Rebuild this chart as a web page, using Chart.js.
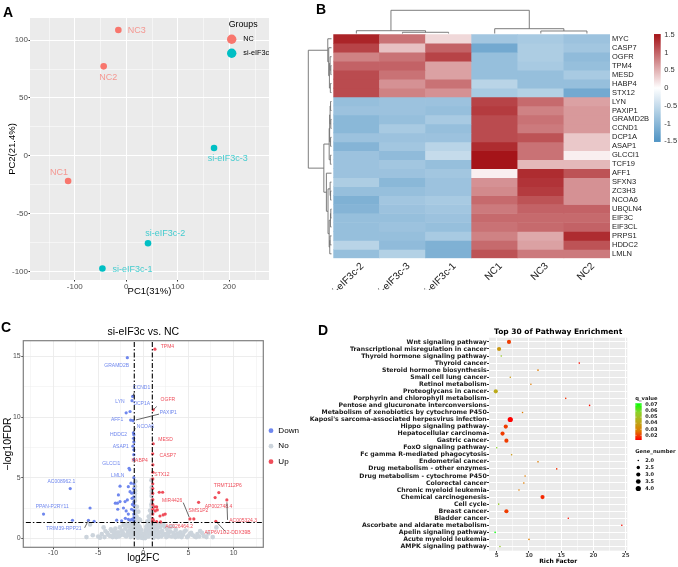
<!DOCTYPE html>
<html>
<head>
<meta charset="utf-8">
<script src="https://cdn.jsdelivr.net/npm/chart.js@4.4.1/dist/chart.umd.min.js"></script>
<style>
html,body{margin:0;padding:0;background:#fff;}
body{width:678px;height:567px;position:relative;overflow:hidden;}
canvas{position:absolute;}
.tag{position:absolute;font:bold 14px "Liberation Sans",Arial,sans-serif;line-height:14px;color:#000;}
</style>
</head>
<body>
<canvas id="cA" width="290" height="300" style="left:0;top:0;width:290px;height:300px"></canvas>
<canvas id="cB" width="388" height="290" style="left:290px;top:0;width:388px;height:290px"></canvas>
<canvas id="cC" width="340" height="267" style="left:0;top:300px;width:340px;height:267px"></canvas>
<canvas id="cD" width="378" height="267" style="left:300px;top:300px;width:378px;height:267px"></canvas>
<div class="tag" style="left:3px;top:5px">A</div>
<div class="tag" style="left:316px;top:2px">B</div>
<div class="tag" style="left:1px;top:320px">C</div>
<div class="tag" style="left:318px;top:323px">D</div>
<script>
// ---------------- DATA ----------------
// Panel A: PCA
const pcaSamples = ['NC1','NC2','NC3','si-eIF3c-1','si-eIF3c-2','si-eIF3c-3'];
const pcaGroupOf = ['NC','NC','NC','si-eIF3c','si-eIF3c','si-eIF3c'];
const pcaGroups = ['NC','si-eIF3c'];
const pc1 = [-113, -44, -15.5, -46.4, 42.1, 170.3];
const pc2 = [-21.6, 77.3, 108.7, -97.1, -75.3, 6.9];

// Panel B: heatmap (z-scores)
const hmSamples = ['si-eIF3c-2','si-eIF3c-3','si-eIF3c-1','NC1','NC3','NC2'];
const hmGenes = ['MYC','CASP7','OGFR','TPM4','MESD','HABP4','STX12','LYN','PAXIP1','GRAMD2B','CCND1','DCP1A','ASAP1','GLCCI1','TCF19','AFF1','SFXN3','ZC3H3','NCOA6','UBQLN4','EIF3C','EIF3CL','PRPS1','HDDC2','LMLN'];
const hmValues = [
  [1.40, 0.90, 0.25, -0.80, -0.75, -0.85],
  [1.20, 0.40, 1.00, -1.20, -0.70, -0.80],
  [0.80, 0.90, 1.20, -0.90, -0.70, -0.95],
  [1.00, 1.00, 0.60, -0.90, -0.75, -0.90],
  [1.15, 0.90, 0.60, -0.90, -0.90, -0.75],
  [1.15, 0.70, 0.90, -0.60, -0.90, -0.90],
  [1.15, 0.80, 0.70, -0.75, -0.65, -1.20],
  [-0.90, -0.85, -0.85, 1.20, 0.95, 0.60],
  [-0.85, -0.85, -0.90, 1.25, 0.80, 0.65],
  [-1.00, -0.90, -0.75, 1.15, 0.90, 0.65],
  [-1.00, -0.75, -0.90, 1.15, 0.85, 0.65],
  [-0.85, -0.85, -0.85, 1.15, 1.10, 0.35],
  [-1.05, -0.80, -0.60, 1.35, 0.90, 0.35],
  [-0.85, -0.95, -0.50, 1.55, 0.90, 0.10],
  [-0.85, -0.80, -0.90, 1.55, 0.45, 0.45],
  [-0.85, -0.85, -0.80, 0.10, 1.35, 1.10],
  [-0.70, -1.00, -0.85, 0.70, 1.30, 0.70],
  [-0.90, -0.90, -0.85, 0.75, 1.25, 0.70],
  [-1.10, -0.80, -0.75, 0.95, 1.10, 0.70],
  [-1.05, -0.85, -0.80, 0.85, 1.00, 1.00],
  [-0.90, -0.90, -0.85, 0.95, 0.95, 0.95],
  [-0.90, -0.85, -0.90, 0.90, 0.95, 1.00],
  [-0.90, -0.90, -0.75, 0.80, 0.55, 1.35],
  [-0.60, -0.95, -1.10, 0.95, 0.60, 1.10],
  [-0.90, -0.65, -1.10, 1.10, 0.85, 0.85]
];
// dendrogram merges (hclust style: negative = leaf index, positive = earlier merge)
const colMerge = [[-2,-3,0.52],[-1,1,1.2],[-5,-6,1.08],[-4,3,2.07],[2,4,10]];
const rowMerge = [[-4,-5,0.3],[-3,1,0.6],[-6,-7,0.5],[2,3,0.9],[-2,4,1.2],[-1,5,1.6],
  [-8,-9,0.4],[-10,-11,0.3],[7,8,0.6],[-12,-13,0.4],[9,10,0.8],[-14,-15,0.5],[11,12,1.0],
  [-18,-19,0.4],[-17,14,0.6],[-20,-21,0.3],[16,-22,0.45],[-23,-24,0.6],[18,-25,0.75],
  [17,19,1.0],[15,20,1.5],[-16,21,2.2],[13,22,3.3],[6,23,10]];
const hmLegendTicks = [1.5, 1, 0.5, 0, -0.5, -1, -1.5];

// Panel C: volcano
const fcCut = 1, fdrCut = 1.3;
const downX = [-1.77,-1.18,-1.25,-1.47,-1.9,-1.4,-1.15,-1.1,-1.05,-1.08,-1.05,-1.15,-1.05,-1.05,-1.05,-1.58,-1.5,-1.05,-1.05,-1.05,-1.05,-1.05,-1.05,-1.05,-1.05,-1.05,-1.05,-1.05,-8.1,-11.06,-5.9,-7.85,-6.08,-5.45,-2.95,-1.66,-2.58,-2.76,-3.1,-2.87,-2.58,-2.02,-1.77,-2.83,-2.2,-1.9,-1.66,-1.99,-1.66,-1.47,-1.28,-1.47,-1.28,-1.36,-2.4,-1.2,-1.3,-1.25];
const downY = [14.9,11.7,11.35,10.46,10.35,9.75,9.7,8.7,8.55,8.25,7.95,7.6,7.3,6.9,6.5,5.78,5.65,5.0,4.5,4.1,3.8,3.4,3.0,2.7,2.3,2.0,1.7,1.45,4.1,2.0,2.5,1.49,1.49,1.4,1.5,4.26,4.3,3.58,2.9,2.9,3.03,3.03,3.17,2.4,2.5,2.26,2.0,1.65,1.57,1.51,1.57,3.85,3.72,4.55,1.45,2.8,2.4,3.3];
const downGene = ['GRAMD2B','CCND1','LYN','DCP1A','','AFF1','PAXIP1','NCOA6','HDDC2','','','ASAP1','','','','GLCCI1','LMLN','','','','','','','','','','','','AC008962.1','PPAN-P2RY11','','','TRIM39-RPP21','','','','','','','','','','','','','','','','','','','','','','','','',''];
const upX = [1.29,1.1,1.1,1.04,1.06,1.06,1.05,1.05,1.05,1.05,1.05,1.05,1.05,1.05,1.05,1.05,1.77,2.14,5.17,5.6,6.13,7.96,8.37,9.26,8.04,1.26,1.48,1.55,1.33,1.1,1.48,1.85,2.2,2.43,1.92];
const upY = [15.6,10.6,7.8,6.97,6.06,5.45,4.9,4.5,4.1,3.7,3.2,2.8,2.4,2.0,1.6,1.4,3.8,3.8,1.6,1.6,2.97,3.36,3.77,3.17,1.4,2.6,2.6,2.34,2.26,1.5,1.37,1.84,1.93,2.0,1.35];
const upGene = ['TPM4','OGFR','MESD','CASP7','HABP4','STX12','','','','','','','','','','','','','MIR4426','SMS1P2','','AP002748.4','TRMT112P6','AC005324.3','ATP6V1G2-DDX39B','','','','','','','','','','AC026464.2'];
const noX = [-5.6,-5.0,-4.6,-4.3,-4.0,-3.7,-3.5,-3.3,-3.1,-3.0,-2.8,-2.6,-2.5,-2.4,-2.2,-2.2,-2.0,-1.9,-1.8,-1.7,-1.6,-1.5,-1.45,-1.35,-1.3,-1.2,-1.15,-1.1,-1.05,
 -0.97,-0.95,-0.93,-0.96,-0.92,-0.95,-0.9,-0.93,-0.88,-0.9,-0.85,-0.87,-0.9,-0.95,-0.9,
 -0.8,-0.75,-0.7,-0.65,-0.6,-0.55,-0.5,-0.45,-0.4,-0.35,-0.3,-0.25,-0.2,-0.15,-0.1,-0.05,
 0.0,0.05,0.1,0.15,0.2,0.25,0.3,0.35,0.4,0.45,0.5,0.55,0.6,0.65,0.7,0.75,0.8,0.82,
 0.86,0.88,0.9,0.92,0.93,0.9,0.95,0.96,0.97,0.94,0.97,
 1.05,1.1,1.15,1.25,1.3,1.4,1.5,1.6,1.7,1.85,2.0,2.1,2.25,2.4,2.6,2.8,3.0,3.2,3.4,3.6,3.9,4.1,4.4,4.7,5.0,5.3,5.7,6.0,6.3,6.7,7.2,8.1,7.7,
 -6.3,-4.4,-5.9,
 -4.8,-4.2,-3.9,-3.6,-3.4,-3.2,-2.9,-2.7,-2.3,-2.1,-1.95,-1.75,-1.55,-1.4,-1.25,-1.1,-0.98,-0.85,-0.7,-0.6,
 -0.45,-0.35,-0.2,-0.1,0.0,0.1,0.2,0.3,0.45,0.6,0.72,0.85,0.98,1.12,1.3,1.45,1.65,1.8,1.95,2.15,
 2.35,2.55,2.75,2.95,3.15,3.35,3.55,3.8,4.0,4.25,4.55,4.85,5.15,5.5,5.85,6.2,6.5,7.0,
 -0.98,-0.92,-0.96,-0.9,-0.94,0.92,0.98,0.9,0.95,0.93,
 -0.6,-0.5,-0.4,-0.3,0.3,0.4,0.5,0.6,-0.7,0.7];
const noY = [0.25,0.15,0.35,0.1,0.45,0.2,0.6,0.3,0.8,0.1,0.5,0.9,0.25,0.65,1.1,0.4,0.8,0.15,1.2,0.55,0.95,0.3,1.25,0.7,1.05,0.45,0.9,1.2,0.2,
 1.5,1.9,2.3,2.7,3.1,3.5,3.9,4.3,4.7,2.0,1.6,2.6,1.2,0.8,0.4,
 1.1,1.8,0.6,1.4,0.9,2.2,0.35,1.0,0.6,1.5,0.25,0.7,0.4,0.15,0.35,0.05,
 0.1,0.2,0.05,0.35,0.15,0.6,0.3,1.0,0.5,1.4,0.8,0.3,1.8,1.1,0.5,2.3,1.4,0.7,
 1.2,2.0,2.8,3.5,4.2,4.8,1.6,2.4,3.1,0.4,0.9,
 0.3,0.8,1.15,0.5,1.0,0.2,0.7,1.2,0.4,0.9,0.15,0.6,1.1,0.35,0.8,0.2,0.55,1.0,0.3,0.7,0.15,0.5,0.3,0.65,0.2,0.45,0.15,0.35,0.6,0.2,0.4,0.9,0.1,
 0.1,0.9,1.15,
 0.05,0.6,0.3,0.75,0.1,0.55,0.35,0.15,0.5,0.25,1.0,0.3,0.6,0.1,0.35,0.6,1.0,0.25,0.3,0.05,
 0.2,0.1,0.05,0.15,0.02,0.08,0.02,0.12,0.3,0.15,0.9,0.4,1.3,0.05,0.3,1.0,0.1,0.5,1.15,0.3,
 0.95,0.1,0.5,0.9,0.15,0.45,0.1,0.4,0.3,0.1,0.55,0.1,0.35,0.25,0.1,0.15,0.45,0.1,
 3.3,3.7,4.0,2.2,1.1,3.9,2.1,1.4,3.7,2.6,
 1.3,1.6,0.9,0.5,0.7,0.9,1.3,1.2,2.6,1.6];

// Panel D: KEGG enrichment
const pathways = ['Wnt signaling pathway','Transcriptional misregulation in cancer','Thyroid hormone signaling pathway','Thyroid cancer','Steroid hormone biosynthesis','Small cell lung cancer','Retinol metabolism','Proteoglycans in cancer','Porphyrin and chlorophyll metabolism','Pentose and glucuronate interconversions','Metabolism of xenobiotics by cytochrome P450',"Kaposi's sarcoma-associated herpesvirus infection",'Hippo signaling pathway','Hepatocellular carcinoma','Gastric cancer','FoxO signaling pathway','Fc gamma R-mediated phagocytosis','Endometrial cancer','Drug metabolism - other enzymes','Drug metabolism - cytochrome P450','Colorectal cancer','Chronic myeloid leukemia','Chemical carcinogenesis','Cell cycle','Breast cancer','Bladder cancer','Ascorbate and aldarate metabolism','Apelin signaling pathway','Acute myeloid leukemia','AMPK signaling pathway'];
const richFactor = [6.9,5.36,5.7,17.8,11.4,7.1,10.3,4.85,15.7,19.4,9.0,7.1,6.4,5.9,6.5,5.0,7.3,11.4,14.3,9.4,9.2,8.45,12.1,5.3,6.5,16.1,24.4,4.75,10.0,5.5];
const qValue = [0.0196,0.0365,0.0547,0.014,0.0274,0.0365,0.0274,0.0426,0.018,0.014,0.0274,0.0123,0.0196,0.0196,0.0196,0.058,0.0365,0.0274,0.018,0.0274,0.0274,0.0274,0.017,0.0547,0.0196,0.014,0.014,0.0728,0.0274,0.0547];
const geneNumber = [3,3,2,2,2,2,2,3,2,2,2,4,3,3,3,2,2,2,2,2,2,2,3,2,3,2,2,2,2,2];
const qLegendTicks = [0.07,0.06,0.05,0.04,0.03,0.02];
const geneLegendTicks = [2.0,2.5,3.0,3.5,4.0];

// ---------------- STYLE ----------------
const LS = '"Liberation Sans", Arial, sans-serif';
const DV = '"DejaVu Sans", sans-serif';
Chart.defaults.font.family = LS;
Chart.defaults.plugins.legend.display = false;
Chart.defaults.plugins.tooltip.enabled = false;
const groupColors = {'NC':'#F8766D','si-eIF3c':'#00BFC4'};
const downColor = '#6F87EE', upColor = '#EF4D5A', noColor = '#CCD4DC';
const pcaLabelOffset = {'NC1':[-9,-8],'NC2':[4.6,11],'NC3':[18.4,0.7],'si-eIF3c-1':[30,0.7],'si-eIF3c-2':[17.3,-10],'si-eIF3c-3':[13.7,10.6]};
const volcanoLabelOffset = {
  'GRAMD2B':[-10.6,8],'CCND1':[9,-9],'LYN':[-12,0.7],'DCP1A':[11.7,-7.4],'AFF1':[-13.6,-0.3],'PAXIP1':[35.4,-7.6],
  'NCOA6':[12.1,-6.3],'HDDC2':[-15.3,0],'ASAP1':[-12.1,0.7],'GLCCI1':[-17.7,-5.1],'LMLN':[-12,5.8],
  'AC008962.1':[-8.8,-7],'PPAN-P2RY11':[8.7,-7.1],'TRIM39-RPP21':[-24.5,8.7],
  'TPM4':[12.5,-2.8],'OGFR':[14.6,-9.7],'MESD':[12.3,-4.6],'CASP7':[15.1,2],'HABP4':[-13.2,-4.7],'STX12':[9.1,1.9],
  'TRMT112P6':[9,-7],'MIR4426':[-17.8,-18.7],'AP002748.4':[3.4,9.4],'SMS1P2':[4.6,-8],'AC005324.3':[16.3,20.3],
  'AC026464.2':[18.5,5],'ATP6V1G2-DDX39B':[11.8,11.3]};
const volcanoSegment = {'CCND1':[1.7,-4],'PAXIP1':[26.1,-6.6],'NCOA6':[1.9,-4.7],'TRIM39-RPP21':[-3.8,7.5],
  'OGFR':[3.5,-3.3],'MIR4426':[-6.7,-16.3],'AC005324.3':[0.7,20],'ATP6V1G2-DDX39B':[9.7,10.3]};

function zColor(v){
  const lo=[80,148,196], hi=[165,20,25];
  const t=Math.max(-1,Math.min(1,v/1.5)); const c=t<0?lo:hi; const a=Math.abs(t);
  return `rgb(${Math.round(255+(c[0]-255)*a)},${Math.round(255+(c[1]-255)*a)},${Math.round(255+(c[2]-255)*a)})`;
}
const qMin = Math.min(...qValue), qMax = Math.max(...qValue);
const qStops = [[0,[255,0,0]],[0.25,[222,124,0]],[0.5,[187,170,26]],[0.75,[140,210,42]],[1,[0,255,0]]];
function tColor(t){
  t=Math.max(0,Math.min(1,t));
  for(let i=1;i<qStops.length;i++){ if(t<=qStops[i][0]){ const [t0,c0]=qStops[i-1],[t1,c1]=qStops[i]; const f=(t-t0)/(t1-t0);
    return `rgb(${Math.round(c0[0]+(c1[0]-c0[0])*f)},${Math.round(c0[1]+(c1[1]-c0[1])*f)},${Math.round(c0[2]+(c1[2]-c0[2])*f)})`; } }
  return 'rgb(0,255,0)';
}
const qColor = q => tColor((q-qMin)/(qMax-qMin));
const geneRadius = g => 0.8 + 1.8*Math.sqrt(Math.max(0,(g-2)/2));

const isMajor = (v,m) => Math.abs(v % m) < 1e-9;
const majorOnly = m => v => isMajor(v,m) ? v : '';
const gridW = (m,a,b) => c => (c.tick && isMajor(c.tick.value,m)) ? a : b;
const tickC = (m,col) => c => (c.tick && isMajor(c.tick.value,m)) ? col : 'rgba(0,0,0,0)';

const panelBg = {
  id:'panelBg',
  beforeDraw(chart, args, opts){
    if(!opts || !opts.color) return;
    const {ctx, chartArea:a} = chart;
    ctx.save(); ctx.fillStyle = opts.color; ctx.fillRect(a.left, a.top, a.right-a.left, a.bottom-a.top); ctx.restore();
  }
};

// ---------------- PANEL A ----------------
const pcaDeco = {
  id:'pcaDeco',
  afterDatasetsDraw(chart){
    const {ctx, chartArea:a} = chart;
    ctx.save();
    ctx.font = `9px ${LS}`; ctx.textAlign='center'; ctx.textBaseline='middle';
    chart.data.datasets.forEach((ds,di)=>{
      const meta = chart.getDatasetMeta(di);
      meta.data.forEach((el,j)=>{
        const name = ds.data[j].name; const off = pcaLabelOffset[name];
        ctx.globalAlpha = 0.72; ctx.fillStyle = ds.backgroundColor;
        ctx.fillText(name, el.x+off[0], el.y+off[1]);
      });
    });
    ctx.globalAlpha = 1;
    ctx.textAlign='left'; ctx.fillStyle='#000';
    ctx.font = `8.8px ${LS}`; ctx.fillText('Groups', a.right-40.3, a.top+7);
    ctx.font = `7.3px ${LS}`;
    chart.data.datasets.forEach((ds,di)=>{
      const y = a.top + 21.3 + di*14;
      ctx.fillStyle = ds.backgroundColor; ctx.beginPath(); ctx.arc(a.right-37.3, y, 4.7, 0, Math.PI*2); ctx.fill();
      ctx.fillStyle = '#000'; ctx.fillText(ds.label, a.right-25.7, y);
    });
    ctx.restore();
  }
};
new Chart(document.getElementById('cA'), {
  type:'scatter',
  data:{datasets: pcaGroups.map(g => ({
    label:g,
    data: pcaSamples.map((s,i)=>({x:pc1[i], y:pc2[i], name:s})).filter((p,i)=>pcaGroupOf[i]===g),
    backgroundColor: groupColors[g], pointRadius:3.3, borderWidth:0
  }))},
  options:{
    responsive:false, animation:false, devicePixelRatio:1,
    layout:{padding:{top:18,right:21,left:0,bottom:0}},
    scales:{
      x:{type:'linear', min:-187, max:277,
        ticks:{stepSize:50, includeBounds:false, callback:majorOnly(100), font:{size:8}, color:'#4D4D4D', padding:0, maxRotation:0},
        grid:{color:'#FFFFFF', lineWidth:gridW(100,1,0.5), tickLength:1.5, tickColor:tickC(100,'#333')},
        border:{display:false},
        title:{display:true, text:'PC1(31%)', font:{size:9.5}, color:'#000', padding:{top:0,bottom:2.5}},
        afterFit:s=>{s.height=20;}},
      y:{type:'linear', min:-107, max:119,
        ticks:{stepSize:25, includeBounds:false, callback:majorOnly(50), font:{size:8}, color:'#4D4D4D', padding:0.5},
        grid:{color:'#FFFFFF', lineWidth:gridW(50,1,0.5), tickLength:1.5, tickColor:tickC(50,'#333')},
        border:{display:false},
        title:{display:true, text:'PC2(21.4%)', font:{size:9.5}, color:'#000', padding:{top:7,bottom:0}},
        afterFit:s=>{s.width=30;}}
    },
    plugins:{panelBg:{color:'#EBEBEB'}}
  },
  plugins:[panelBg, pcaDeco]
});

// ---------------- PANEL B ----------------
function drawDendro(ctx, merges, leafPos, base, scale, isColumn){
  const pos=[], hts=[];
  const get = id => id<0 ? {p:leafPos[-id-1], h:0} : {p:pos[id-1], h:hts[id-1]};
  ctx.beginPath();
  merges.forEach(([a,b,h])=>{
    const A=get(a), B=get(b); const H = base - h*scale;
    const ea = base - A.h*scale, eb = base - B.h*scale;
    if(isColumn){ ctx.moveTo(A.p,ea); ctx.lineTo(A.p,H); ctx.lineTo(B.p,H); ctx.lineTo(B.p,eb); }
    else { ctx.moveTo(ea,A.p); ctx.lineTo(H,A.p); ctx.lineTo(H,B.p); ctx.lineTo(eb,B.p); }
    pos.push((A.p+B.p)/2); hts.push(h);
  });
  ctx.stroke();
}
const heatDeco = {
  id:'heatDeco',
  afterDraw(chart){
    const {ctx, chartArea:a, scales} = chart;
    ctx.save();
    ctx.strokeStyle='#6E6E6E'; ctx.lineWidth=0.9;
    drawDendro(ctx, colMerge, hmSamples.map((s,i)=>scales.x.getPixelForValue(i)), a.top-0.8, 2.32, true);
    drawDendro(ctx, rowMerge, hmGenes.map((g,i)=>scales.genes.getPixelForValue(i)), a.left-1.8, 2.32, false);
    // colour key
    const bx = a.right+44, bw = 6.7, y0 = 88, k = 35.5;
    const top = y0-1.52*k, bot = y0+1.52*k;
    const grad = ctx.createLinearGradient(0, top, 0, bot);
    for(let i=0;i<=20;i++){ const v = 1.52 - 3.04*i/20; grad.addColorStop(i/20, zColor(v)); }
    ctx.fillStyle = grad; ctx.fillRect(bx, top, bw, bot-top);
    ctx.fillStyle='#333'; ctx.font=`7.5px ${LS}`; ctx.textAlign='left'; ctx.textBaseline='middle';
    hmLegendTicks.forEach(v=>{ ctx.fillText(String(v), bx+bw+3.5, y0 - v*k); });
    ctx.restore();
  }
};
new Chart(document.getElementById('cB'), {
  type:'bar',
  data:{labels: hmSamples, datasets: hmGenes.map((g,i)=>({
    label:g, data: hmSamples.map(()=>1), backgroundColor: hmValues[i].map(zColor),
    borderWidth:0, barPercentage:1, categoryPercentage:1, stack:'hm'
  }))},
  options:{
    responsive:false, animation:false, devicePixelRatio:1,
    layout:{padding:{left:43.3, top:34.3, right:0, bottom:0}},
    scales:{
      x:{stacked:true, grid:{display:false, drawTicks:false}, border:{display:false},
        ticks:{minRotation:45, maxRotation:45, autoSkip:false, font:{size:10}, color:'#222', padding:2, labelOffset:6},
        afterFit:s=>{s.height=31.7;}},
      y:{stacked:true, min:0, max:25, reverse:true, display:false},
      genes:{type:'category', labels:hmGenes, position:'right', offset:true,
        grid:{display:false, drawTicks:false}, border:{display:false},
        ticks:{autoSkip:false, font:{size:7.5}, color:'#222', padding:2},
        afterFit:s=>{s.width=68;}}
    }
  },
  plugins:[heatDeco]
});

// ---------------- PANEL C ----------------
const volcanoDeco = {
  id:'volcanoDeco',
  afterDatasetsDraw(chart){
    const {ctx, chartArea:a} = chart;
    ctx.save();
    ctx.font = `5px ${LS}`; ctx.textAlign='center'; ctx.textBaseline='middle';
    chart.data.datasets.forEach((ds,di)=>{
      if(!ds.genes) return;
      const meta = chart.getDatasetMeta(di);
      ds.genes.forEach((g,j)=>{
        if(!g) return;
        const el = meta.data[j]; const off = volcanoLabelOffset[g]; if(!off) return;
        const seg = volcanoSegment[g];
        if(seg){ ctx.strokeStyle='#000'; ctx.lineWidth=0.6; ctx.beginPath();
          ctx.moveTo(el.x+seg[0]*0.12, el.y+seg[1]*0.12); ctx.lineTo(el.x+seg[0], el.y+seg[1]); ctx.stroke(); }
        ctx.fillStyle = ds.backgroundColor; ctx.fillText(g, el.x+off[0], el.y+off[1]);
      });
    });
    ctx.strokeStyle='#7F7F7F'; ctx.lineWidth=1.2; ctx.strokeRect(a.left, a.top, a.right-a.left, a.bottom-a.top);
    ctx.restore();
  },
  afterDraw(chart){
    const ctx = chart.ctx; const a = chart.chartArea;
    const items = ['Down','No','Up'].map(l=>chart.data.datasets.find(d=>d.label===l));
    ctx.save(); ctx.font=`8.1px ${LS}`; ctx.textAlign='left'; ctx.textBaseline='middle';
    items.forEach((ds,i)=>{
      const y = 130.7 + i*15.5;
      ctx.fillStyle = ds.backgroundColor; ctx.beginPath(); ctx.arc(a.right+7.7, y, 2.4, 0, Math.PI*2); ctx.fill();
      ctx.fillStyle = '#000'; ctx.fillText(ds.label, a.right+15, y);
    });
    ctx.restore();
  }
};
const cutLine = (data) => ({type:'line', label:'', data, borderColor:'#000', borderWidth:1.1, borderDash:[5,2,1.5,2], pointRadius:0, fill:false, order:0});
new Chart(document.getElementById('cC'), {
  type:'scatter',
  data:{datasets:[
    cutLine([{x:-fcCut,y:-5},{x:-fcCut,y:20}]),
    cutLine([{x:fcCut,y:-5},{x:fcCut,y:20}]),
    cutLine([{x:-20,y:fdrCut},{x:20,y:fdrCut}]),
    {label:'Up', data: upX.map((x,i)=>({x, y:upY[i]})), genes: upGene, backgroundColor: upColor, pointRadius:1.6, borderWidth:0, order:1},
    {label:'Down', data: downX.map((x,i)=>({x, y:downY[i]})), genes: downGene, backgroundColor: downColor, pointRadius:1.6, borderWidth:0, order:1},
    {label:'No', data: noX.map((x,i)=>({x, y:noY[i]})), backgroundColor: noColor, pointRadius:2.3, borderWidth:0, order:2}
  ]},
  options:{
    responsive:false, animation:false, devicePixelRatio:1,
    layout:{padding:{top:0,right:76.7,left:0,bottom:0}},
    scales:{
      x:{type:'linear', min:-13.3, max:13.3,
        ticks:{stepSize:2.5, includeBounds:false, callback:majorOnly(5), font:{size:7}, color:'#4D4D4D', padding:0, maxRotation:0},
        grid:{color:'#EBEBEB', lineWidth:gridW(5,0.9,0.45), tickLength:2, tickColor:tickC(5,'#333')},
        border:{display:false},
        title:{display:true, text:'log2FC', font:{size:10}, color:'#000', padding:{top:0,bottom:3}},
        afterFit:s=>{s.height=19.7;}},
      y:{type:'linear', min:-0.74, max:16.3,
        ticks:{stepSize:2.5, includeBounds:false, callback:majorOnly(5), font:{size:7}, color:'#4D4D4D', padding:0.6},
        grid:{color:'#EBEBEB', lineWidth:gridW(5,0.9,0.45), tickLength:2, tickColor:tickC(5,'#333')},
        border:{display:false},
        title:{display:true, text:'\u2212log10FDR', font:{size:10.5}, color:'#000', padding:{top:2,bottom:0}},
        afterFit:s=>{s.width=23.3;}}
    },
    plugins:{title:{display:true, text:'si-eIF3c vs. NC', fullSize:false, font:{size:10.5, weight:'normal'}, color:'#000', padding:{top:25.4,bottom:2.7}}}
  },
  plugins:[volcanoDeco]
});

// ---------------- PANEL D ----------------
const dotLegend = {
  id:'dotLegend',
  afterDraw(chart){
    const {ctx, chartArea:a} = chart; const x0 = a.right + 8;
    ctx.save();
    ctx.textAlign='left'; ctx.textBaseline='middle'; ctx.fillStyle='#1A1A1A';
    ctx.font = `bold 5.2px ${DV}`; ctx.fillText('q_value', x0, 99);
    const yq = q => 105 + (0.07-q)*606.7;
    const top = yq(qMax), bot = yq(qMin), bw = 6.4;
    const grad = ctx.createLinearGradient(0, top, 0, bot);
    for(let i=0;i<=20;i++){ grad.addColorStop(i/20, tColor(1-i/20)); }
    ctx.fillStyle = grad; ctx.fillRect(x0, top, bw, bot-top);
    ctx.strokeStyle='#fff'; ctx.lineWidth=0.5;
    ctx.font = `bold 5px ${DV}`;
    qLegendTicks.forEach(q=>{ const y=yq(q);
      ctx.beginPath(); ctx.moveTo(x0,y); ctx.lineTo(x0+1.3,y); ctx.moveTo(x0+bw-1.3,y); ctx.lineTo(x0+bw,y); ctx.stroke();
      ctx.fillStyle='#1A1A1A'; ctx.fillText(q.toFixed(2), x0+bw+3.5, y); });
    ctx.font = `bold 5.2px ${DV}`; ctx.fillText('Gene_number', x0, 151.7);
    ctx.font = `bold 5px ${DV}`;
    geneLegendTicks.forEach((g,i)=>{ const y = 160.5 + i*7;
      ctx.fillStyle='#000'; ctx.beginPath(); ctx.arc(x0+3, y, geneRadius(g), 0, Math.PI*2); ctx.fill();
      ctx.fillStyle='#1A1A1A'; ctx.fillText(g.toFixed(1), x0+bw+3.5, y); });
    ctx.restore();
  }
};
new Chart(document.getElementById('cD'), {
  type:'scatter',
  data:{datasets:[{label:'Pathways', data: pathways.map((p,i)=>({x:richFactor[i], y:i+1})),
    backgroundColor: qValue.map(qColor), pointRadius: geneNumber.map(geneRadius), borderWidth:0}]},
  options:{
    responsive:false, animation:false, devicePixelRatio:1,
    layout:{padding:{top:0,right:50.7,left:0,bottom:0}},
    scales:{
      x:{type:'linear', min:3.8, max:25.25,
        ticks:{stepSize:2.5, includeBounds:false, callback:majorOnly(5), font:{family:DV, size:5.5, weight:'bold'}, color:'#4D4D4D', padding:0, maxRotation:0},
        grid:{color:'#FFFFFF', lineWidth:gridW(5,1,0.5), tickLength:2, tickColor:tickC(5,'#333')},
        border:{display:false},
        title:{display:true, text:'Rich Factor', font:{family:DV, size:6, weight:'bold'}, color:'#000', padding:{top:0,bottom:2.4}},
        afterFit:s=>{s.height=16.3;}},
      y:{type:'linear', min:0.4, max:30.6, reverse:true,
        afterBuildTicks:s=>{ s.ticks = pathways.map((p,i)=>({value:i+1})); },
        ticks:{autoSkip:false, callback:v=>pathways[v-1], font:{family:DV, size:6.2, weight:'bold'}, color:'#1A1A1A', padding:0.3},
        grid:{color:'#FFFFFF', lineWidth:1, tickLength:2, tickColor:'#333'},
        border:{display:false},
        afterFit:s=>{s.width=189;}}
    },
    plugins:{
      title:{display:true, text:'Top 30 of Pathway Enrichment', fullSize:false, font:{family:DV, size:7.5, weight:'bold'}, color:'#000', padding:{top:27.2,bottom:1.5}},
      panelBg:{color:'#EBEBEB'}
    }
  },
  plugins:[panelBg, dotLegend]
});
</script>
</body>
</html>
